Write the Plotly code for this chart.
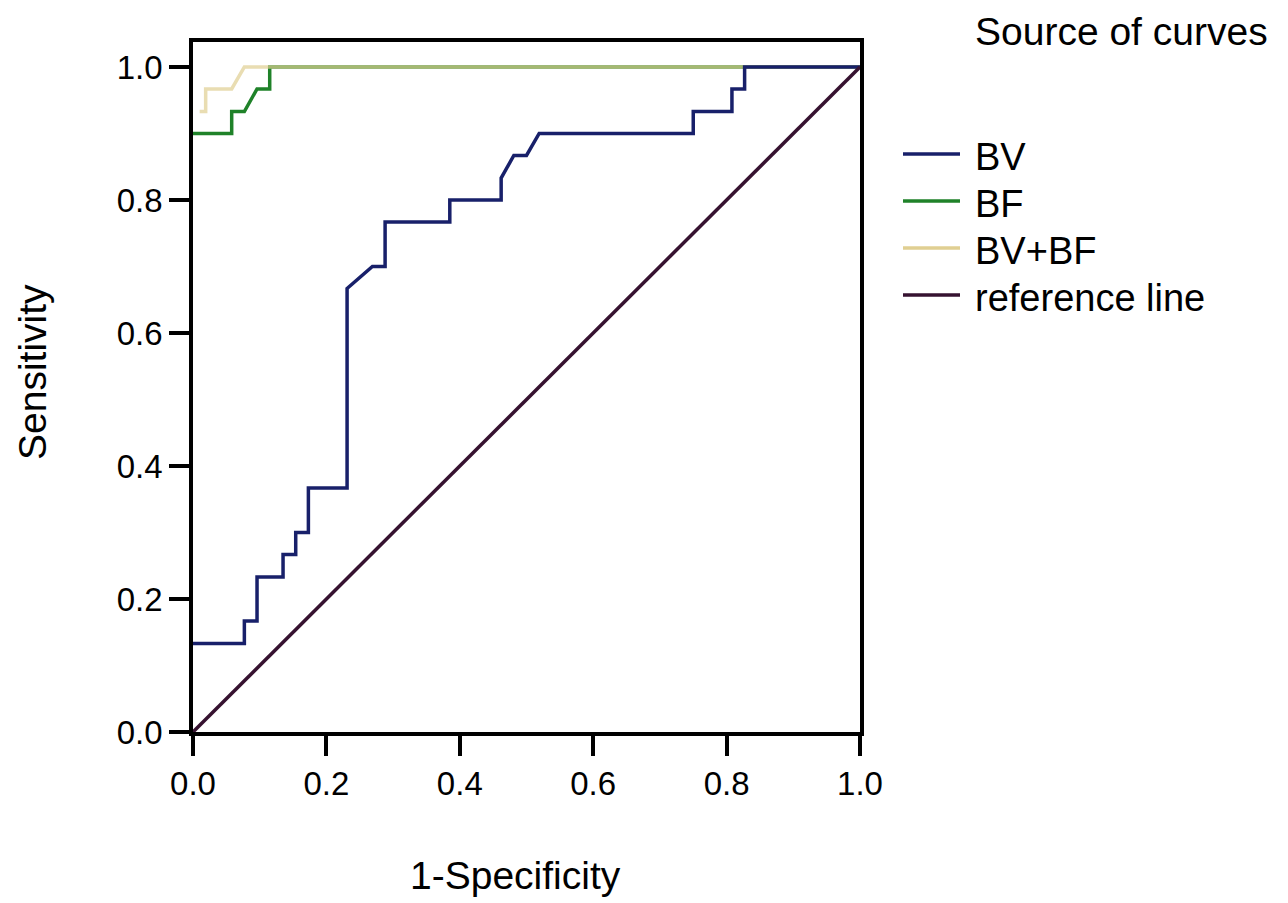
import plotly.graph_objects as go

# ---- data ----
bv_fpr = [0.0, 0.077, 0.077, 0.096, 0.096, 0.135, 0.135, 0.154, 0.154, 0.173, 0.173, 0.231,
          0.231, 0.269, 0.288, 0.288, 0.385, 0.385, 0.462, 0.462, 0.481, 0.500, 0.519, 0.750,
          0.750, 0.808, 0.808, 0.827, 0.827, 1.0]
bv_tpr = [0.133, 0.133, 0.167, 0.167, 0.233, 0.233, 0.267, 0.267, 0.300, 0.300, 0.367, 0.367,
          0.667, 0.700, 0.700, 0.767, 0.767, 0.800, 0.800, 0.833, 0.867, 0.867, 0.900, 0.900,
          0.933, 0.933, 0.967, 0.967, 1.0, 1.0]

bf_fpr = [0.0, 0.058, 0.058, 0.077, 0.096, 0.115, 0.115, 1.0]
bf_tpr = [0.900, 0.900, 0.933, 0.933, 0.967, 0.967, 1.0, 1.0]

bvbf_fpr = [0.010, 0.019, 0.019, 0.058, 0.077, 1.0]
bvbf_tpr = [0.933, 0.933, 0.967, 0.967, 1.0, 1.0]

ref_fpr = [0.0, 1.0]
ref_tpr = [0.0, 1.0]

tick_vals = [0.0, 0.2, 0.4, 0.6, 0.8, 1.0]
tick_text = ["0.0", "0.2", "0.4", "0.6", "0.8", "1.0"]

series_names = ["BV", "BF", "BV+BF", "reference line"]
series_colors = ["#18206a", "#1f8229", "#e0cf92", "#361230"]

# ---- layout geometry (pixels) ----
W, H = 1288, 903
L, R, T, B = 193, 860, 42, 732
FONT = "Liberation Sans, Arial, sans-serif"


def px_x(px):
    return (px - L) / (R - L)


def px_y(py):
    return (B - py) / (B - T)


fig = go.Figure()
fig.add_trace(go.Scatter(x=bf_fpr, y=bf_tpr, mode="lines", name=series_names[1],
                         line=dict(color=series_colors[1], width=3.5), showlegend=False))
fig.add_trace(go.Scatter(x=bvbf_fpr, y=bvbf_tpr, mode="lines", name=series_names[2],
                         line=dict(color=series_colors[2], width=3.5), opacity=0.7,
                         showlegend=False))
fig.add_trace(go.Scatter(x=bv_fpr, y=bv_tpr, mode="lines", name=series_names[0],
                         line=dict(color=series_colors[0], width=3.5), showlegend=False))
fig.add_trace(go.Scatter(x=ref_fpr, y=ref_tpr, mode="lines", name=series_names[3],
                         line=dict(color=series_colors[3], width=3.5), showlegend=False))

axis_common = dict(
    showline=True, linecolor="black", linewidth=3.5, mirror=True,
    ticks="outside", ticklen=20, tickwidth=3.5, tickcolor="black",
    showgrid=False, zeroline=False,
    tickvals=tick_vals, ticktext=tick_text,
    tickfont=dict(family=FONT, size=33, color="black"),
)

fig.update_layout(
    width=W, height=H,
    margin=dict(l=L, r=W - R, t=T, b=H - B, pad=0),
    paper_bgcolor="white", plot_bgcolor="white",
    xaxis=dict(range=[0, 1], **axis_common),
    yaxis=dict(range=[0, (B - T) / (B - 67) * 1.0], **axis_common),
    showlegend=False,
)

annotations = [
    dict(text="Sensitivity", x=px_x(32), y=px_y(372), xref="paper", yref="paper",
         textangle=-90, showarrow=False, xanchor="center", yanchor="middle",
         font=dict(family=FONT, size=39, color="black")),
    dict(text="1-Specificity", x=px_x(515), y=px_y(876), xref="paper", yref="paper",
         showarrow=False, xanchor="center", yanchor="middle",
         font=dict(family=FONT, size=39, color="black")),
    dict(text="Source of curves", x=px_x(973), y=px_y(32), xref="paper", yref="paper",
         showarrow=False, xanchor="left", yanchor="middle",
         font=dict(family=FONT, size=39, color="black")),
]

shapes = []
legend_line_y = [154, 201, 248, 295]
for name, color, ly in zip(series_names, series_colors, legend_line_y):
    shapes.append(dict(type="line", xref="paper", yref="paper",
                       x0=px_x(903), x1=px_x(960), y0=px_y(ly), y1=px_y(ly),
                       line=dict(color=color, width=3.5)))
    annotations.append(dict(text=name, x=px_x(973), y=px_y(ly + 3), xref="paper", yref="paper",
                            showarrow=False, xanchor="left", yanchor="middle",
                            font=dict(family=FONT, size=38, color="black")))

fig.update_layout(annotations=annotations, shapes=shapes)

fig.write_html("out.html")
